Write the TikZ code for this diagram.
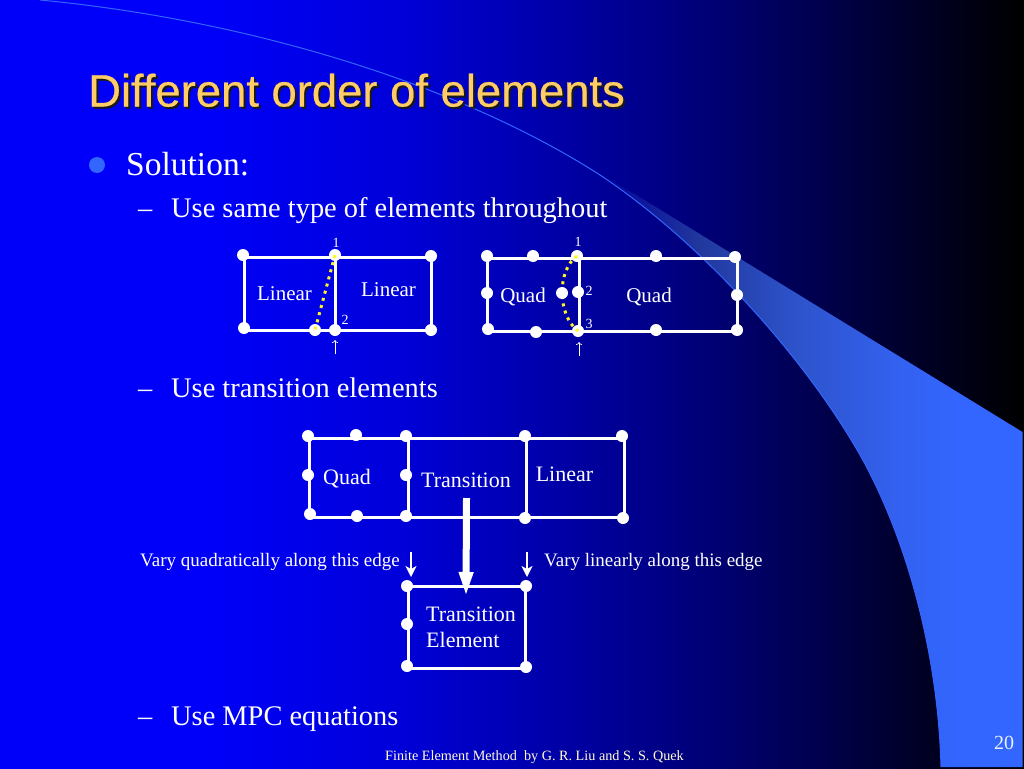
\documentclass[tikz,border=0pt]{standalone}
\usepackage{fontspec}
\setmainfont{Liberation Serif}
\newfontfamily\titlefont[FakeBold=0.5,Ligatures=NoCommon]{Liberation Sans}
\usetikzlibrary{arrows.meta}
\pgfdeclarehorizontalshading{slidebg}{100bp}{rgb(0bp)=(0,0,.98);rgb(25bp)=(0,0,.98);rgb(34.8bp)=(0,0,.98);rgb(44.5bp)=(0,0,.85);rgb(56.3bp)=(0,0,.55);rgb(64.1bp)=(0,0,.33);rgb(70.9bp)=(0,0,.12);rgb(75bp)=(0,0,0);rgb(100bp)=(0,0,0)}
\pgfdeclarehorizontalshading{swooshbg}{100bp}{rgb(0bp)=(0,0,.6);rgb(25bp)=(0,0,.6);rgb(36.8bp)=(.13,.22,.62);rgb(48.6bp)=(.18,.33,.8);rgb(60.4bp)=(.2,.38,.94);rgb(67.5bp)=(.2,.4,1);rgb(100bp)=(.2,.4,1)}
\definecolor{swooshblue}{HTML}{3366FF}
\definecolor{titlegold}{HTML}{FFCC66}
\tikzset{
	bodytext/.style={text=white,inner sep=0pt,anchor=base west,font=\fontsize{28.4}{32}\selectfont},
	toptext/.style={bodytext,font=\fontsize{33.5}{38}\selectfont},
	labeltext/.style={text=white,inner sep=0pt,anchor=base,font=\fontsize{21}{24}\selectfont},
	biglabel/.style={labeltext,font=\fontsize{22}{26}\selectfont},
	smalltext/.style={text=white,inner sep=0pt,anchor=base west,font=\fontsize{19}{22}\selectfont},
	numtext/.style={text=white,inner sep=0pt,anchor=base,font=\fontsize{14}{16}\selectfont},
	titletext/.style={inner sep=0pt,anchor=base west,font=\titlefont\fontsize{45.4}{50}\selectfont},
	meshdot/.style={circle,fill=white,inner sep=0pt,minimum size=12pt},
	meshline/.style={draw=white,line width=3pt},
	seamline/.style={draw=yellow!85!white,line width=3pt,dash pattern=on 3pt off 4.4pt},
	thinarrow/.style={draw=white,line width=.7pt,-{To[length=3pt,width=6pt]}},
	edgearrow/.style={draw=white,line width=2.4pt,-{Stealth[length=11pt,width=11pt,inset=3pt]}}
}
\begin{document}
\begin{tikzpicture}[x=1pt,y=-1pt]
	\useasboundingbox (0,0) rectangle (1024,768);
	\shade[shading=slidebg] (0,0) rectangle (1024,768);
	% swoosh
	\shade[shading=swooshbg] (600,175) .. controls (695,238) and (800,350) .. (860,455) .. controls (905,535) and (938,650) .. (941,767) -- (1022.5,767) -- (1022.5,432) -- (633,193) -- cycle;
	\draw[swooshblue,line width=1pt] (40,0) .. controls (250,20) and (460,85) .. (600,175) .. controls (695,238) and (800,350) .. (860,455) .. controls (905,535) and (938,650) .. (941,767);
	% title and text
	\node[titletext,text=black!90] (titleshadow) at (90,108.5) {Different order of elements};
	\node[titletext,text=titlegold] (title) at (88,106.5) {Different order of elements};
	\node[circle,fill=swooshblue,inner sep=0pt,minimum size=16pt] (bullet) at (97,165) {};
	\node[toptext] (solution) at (126,175) {Solution:};
	\node[bodytext] (dasha) at (138,217) {--};
	\node[bodytext] (usesame) at (171,217) {Use same type of elements throughout};
	\node[bodytext] (dashb) at (138,397) {--};
	\node[bodytext] (usetrans) at (171,397) {Use transition elements};
	\node[bodytext] (dashc) at (138,725) {--};
	\node[bodytext] (usempc) at (171,725) {Use MPC equations};
	% linear + linear
	\coordinate (la) at (244,257);
	\coordinate (lb) at (335,257);
	\coordinate (lc) at (431,257);
	\coordinate (ld) at (431,330);
	\coordinate (le) at (335,330);
	\coordinate (lf) at (244,330);
	\draw[meshline] (la) -- (lc) -- (ld) -- (lf) -- cycle;
	\draw[meshline] (lb) -- (le);
	\foreach \nm/\px/\py in {ldotA/243/255,ldotB/335/255,ldotC/431/256,ldotD/431/330,ldotE/335/330,ldotF/315/330,ldotG/244/328}
		\node[meshdot] (\nm) at (\px,\py) {};
	\draw[seamline] (ldotB.center) -- (ldotF.center);
	\node[labeltext] (linA) at (284.5,300) {Linear};
	\node[labeltext] (linB) at (388.5,296) {Linear};
	\node[numtext] (lnumA) at (336,247) {1};
	\node[numtext] (lnumB) at (345,324) {2};
	\coordinate (larrowS) at (335,354);
	\coordinate (larrowE) at (335,340);
	\draw[thinarrow] (larrowS) -- (larrowE);
	% quad + quad
	\coordinate (qa) at (487,258);
	\coordinate (qb) at (579,258);
	\coordinate (qc) at (737,258);
	\coordinate (qd) at (737,331);
	\coordinate (qe) at (579,331);
	\coordinate (qf) at (487,331);
	\draw[meshline] (qa) -- (qc) -- (qd) -- (qf) -- cycle;
	\draw[meshline] (qb) -- (qe);
	\foreach \nm/\px/\py in {qdotA/487/256,qdotB/533/256,qdotC/577/256,qdotD/656/256,qdotE/735/257,qdotF/487/293,qdotG/578/292,qdotH/737/295,qdotI/488/329,qdotJ/536/332,qdotK/578/331,qdotL/656/330,qdotM/737/330}
		\node[meshdot] (\nm) at (\px,\py) {};
	\draw[seamline] (qdotC.center) .. controls (557,270) and (557,315) .. (qdotK.center);
	\node[meshdot] (qdotN) at (562,293) {};
	\node[labeltext] (quadA) at (523,302) {Quad};
	\node[labeltext] (quadB) at (649,302) {Quad};
	\node[numtext] (qnumA) at (578,246) {1};
	\node[numtext] (qnumB) at (589,295) {2};
	\node[numtext] (qnumC) at (589,328) {3};
	\coordinate (qarrowS) at (579,356);
	\coordinate (qarrowE) at (579,342);
	\draw[thinarrow] (qarrowS) -- (qarrowE);
	% quad + transition + linear
	\coordinate (ta) at (309,438);
	\coordinate (tb) at (408,438);
	\coordinate (tc) at (526,438);
	\coordinate (td) at (624,438);
	\coordinate (te) at (624,517);
	\coordinate (tf) at (526,517);
	\coordinate (tg) at (408,517);
	\coordinate (th) at (309,517);
	\draw[meshline] (ta) -- (td) -- (te) -- (th) -- cycle;
	\draw[meshline] (tb) -- (tg);
	\draw[meshline] (tc) -- (tf);
	\foreach \nm/\px/\py in {tdotA/308/436,tdotB/356/435,tdotC/406/436,tdotD/525/436,tdotE/622/436,tdotF/308/475,tdotG/406/475,tdotH/310/514,tdotI/357/516,tdotJ/406/516,tdotK/525/518,tdotL/623/518}
		\node[meshdot] (\nm) at (\px,\py) {};
	\node[biglabel] (quadC) at (347,484) {Quad};
	\node[biglabel] (transA) at (466,487) {Transition};
	\node[biglabel] (linC) at (564.5,481) {Linear};
	% element below
	\coordinate (ea) at (408,586);
	\coordinate (eb) at (525,586);
	\coordinate (ec) at (525,668);
	\coordinate (ed) at (408,668);
	\draw[meshline] (ea) -- (eb) -- (ec) -- (ed) -- cycle;
	\foreach \nm/\px/\py in {edotA/407/586,edotB/526/586,edotC/407/624,edotD/407/666,edotE/526/667}
		\node[meshdot] (\nm) at (\px,\py) {};
	\node[biglabel,anchor=base west] (transB) at (426,621) {Transition};
	\node[biglabel,anchor=base west] (elemA) at (426,647) {Element};
	% arrows
	\coordinate (bigS) at (466.5,498);
	\coordinate (bigE) at (466,597);
	\draw[draw=white,line width=7pt,-{Triangle[length=25pt,width=13pt]}] (bigS) -- (bigE);
	\coordinate (quadS) at (411,552);
	\coordinate (quadE) at (411,577);
	\coordinate (linS) at (527,552);
	\coordinate (linE) at (527,577);
	\draw[edgearrow] (quadS) -- (quadE);
	\draw[edgearrow] (linS) -- (linE);
	\node[smalltext] (varyquad) at (140,566) {Vary quadratically along this edge};
	\node[smalltext] (varylin) at (544,566) {Vary linearly along this edge};
	% footer
	\node[text=white!85!yellow,inner sep=0pt,anchor=base,font=\fontsize{14.2}{16}\selectfont] (footer) at (534.5,760) {Finite Element Method\ \ by G. R. Liu and S. S. Quek};
	\node[text=white!90!swooshblue,inner sep=0pt,anchor=base,font=\fontsize{20}{24}\selectfont] (pagenum) at (1004,749) {20};
\end{tikzpicture}
\end{document}
